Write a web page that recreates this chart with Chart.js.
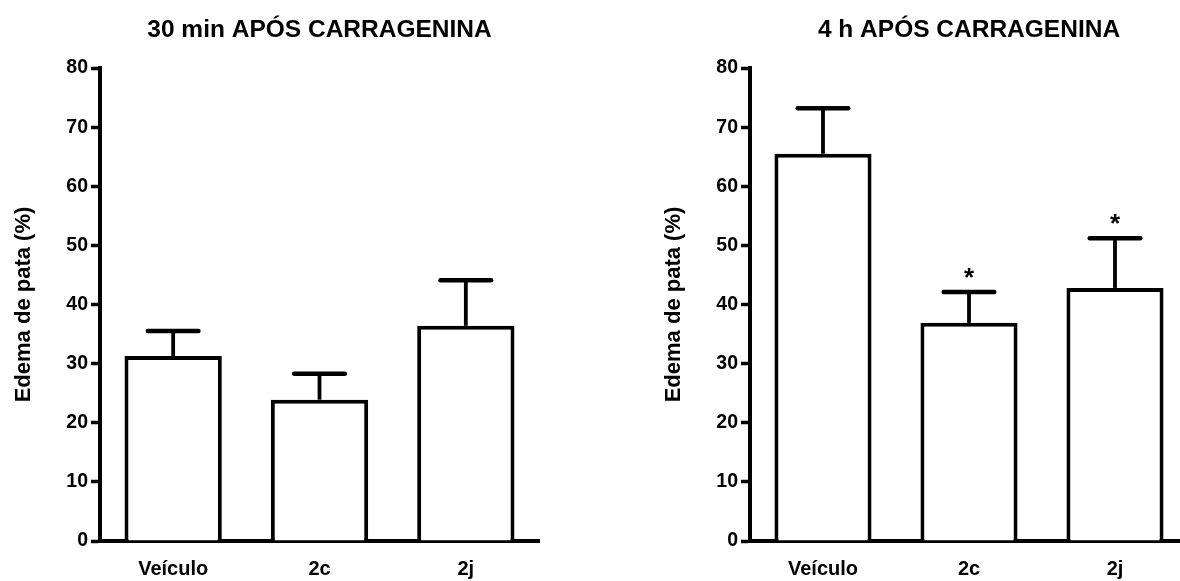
<!DOCTYPE html>
<html><head><meta charset="utf-8">
<script src="https://cdn.jsdelivr.net/npm/chart.js@4.4.0/dist/chart.umd.min.js"></script>
<style>
html,body{margin:0;padding:0;background:#fff;width:1180px;height:581px;overflow:hidden;position:relative}
canvas{position:absolute;top:0}
#c1{left:0}
#c2{left:590px}
</style></head><body>
<canvas id="c1" width="590" height="581"></canvas>
<canvas id="c2" width="610" height="581"></canvas>
<script>
const categories = ['Veículo', '2c', '2j'];
const mean30 = [31.3, 23.9, 36.4];
const sem30 = [4.2, 4.4, 7.7];
const sig30 = ['', '', ''];
const mean4h = [65.5, 36.9, 42.8];
const sem4h = [7.7, 5.2, 8.4];
const sig4h = ['', '*', '*'];
const yTicks = [0, 10, 20, 30, 40, 50, 60, 70, 80];
const title30 = '30 min APÓS CARRAGENINA';
const title4h = '4 h APÓS CARRAGENINA';
const yTitle = 'Edema de pata (%)';

const FONT = '"Liberation Sans", Arial, sans-serif';

const errPlugin = {
  id: 'err',
  afterDatasetsDraw(chart, args, opts) {
    const ctx = chart.ctx;
    const y = chart.scales.y;
    const meta = chart.getDatasetMeta(0);
    ctx.save();
    ctx.strokeStyle = '#000';
    ctx.fillStyle = '#000';
    opts.mean.forEach((v, i) => {
      const bar = meta.data[i];
      const cx = bar.x;
      const yTop = y.getPixelForValue(v);
      const yErr = y.getPixelForValue(v + opts.sem[i]);
      const half = bar.width * 0.26;
      ctx.lineWidth = 3.8;
      ctx.lineCap = 'butt';
      ctx.beginPath(); ctx.moveTo(cx, yTop); ctx.lineTo(cx, yErr); ctx.stroke();
      ctx.lineWidth = 4.5;
      ctx.lineCap = 'round';
      ctx.beginPath(); ctx.moveTo(cx - half, yErr); ctx.lineTo(cx + half, yErr); ctx.stroke();
      if (opts.sig[i]) {
        ctx.font = 'bold 26px ' + FONT;
        ctx.textAlign = 'center';
        ctx.textBaseline = 'alphabetic';
        ctx.fillText(opts.sig[i], cx, yErr - 6);
      }
    });
    ctx.restore();
  }
};

function makeChart(id, mean, sem, sig, title, padLeft, padRight) {
  return new Chart(document.getElementById(id), {
    type: 'bar',
    data: {
      labels: categories,
      datasets: [{
        data: mean,
        backgroundColor: '#fff',
        borderColor: '#000',
        borderWidth: 4,
        barPercentage: 0.665,
        categoryPercentage: 1,
        borderSkipped: 'start'
      }]
    },
    options: {
      responsive: false,
      animation: false,
      devicePixelRatio: 1,
      layout: { padding: { left: padLeft, right: padRight, top: 0, bottom: 0 } },
      plugins: {
        legend: { display: false },
        tooltip: { enabled: false },
        title: { display: false },
        err: { mean: mean, sem: sem, sig: sig }
      },
      scales: {
        x: {
          position: 'bottom',
          grid: { display: false, drawTicks: false },
          border: { display: true, color: '#000', width: 4 },
          ticks: { color: '#000', font: { family: FONT, size: 20, weight: 'bold' }, padding: 16 },
          afterFit(s) { s.height = 40; }
        },
        xTop: {
          type: 'category',
          position: 'top',
          grid: { display: false, drawTicks: false },
          border: { display: false },
          ticks: { display: false },
          title: { display: true, text: title, color: '#000', font: { family: FONT, size: 24.5, weight: 'bold' }, padding: { top: 16, bottom: 0 } },
          afterFit(s) { s.height = 68; }
        },
        y: {
          min: 0, max: 80,
          afterBuildTicks(s) { s.ticks = yTicks.map(v => ({ value: v })); },
          grid: { drawOnChartArea: false, drawTicks: true, tickLength: 9, tickWidth: 3.5, tickColor: '#000' },
          border: { display: true, color: '#000', width: 4 },
          ticks: { color: '#000', font: { family: FONT, size: 19.5, weight: 'bold' }, padding: 3 },
          title: { display: true, text: yTitle, color: '#000', font: { family: FONT, size: 22, weight: 'bold' }, padding: { top: 11, bottom: 0 } },
          afterFit(s) { s.width = 100; }
        }
      }
    },
    plugins: [errPlugin]
  });
}

makeChart('c1', mean30, sem30, sig30, title30, 0, 51);
makeChart('c2', mean4h, sem4h, sig4h, title4h, 60, 12);
</script>
</body></html>
